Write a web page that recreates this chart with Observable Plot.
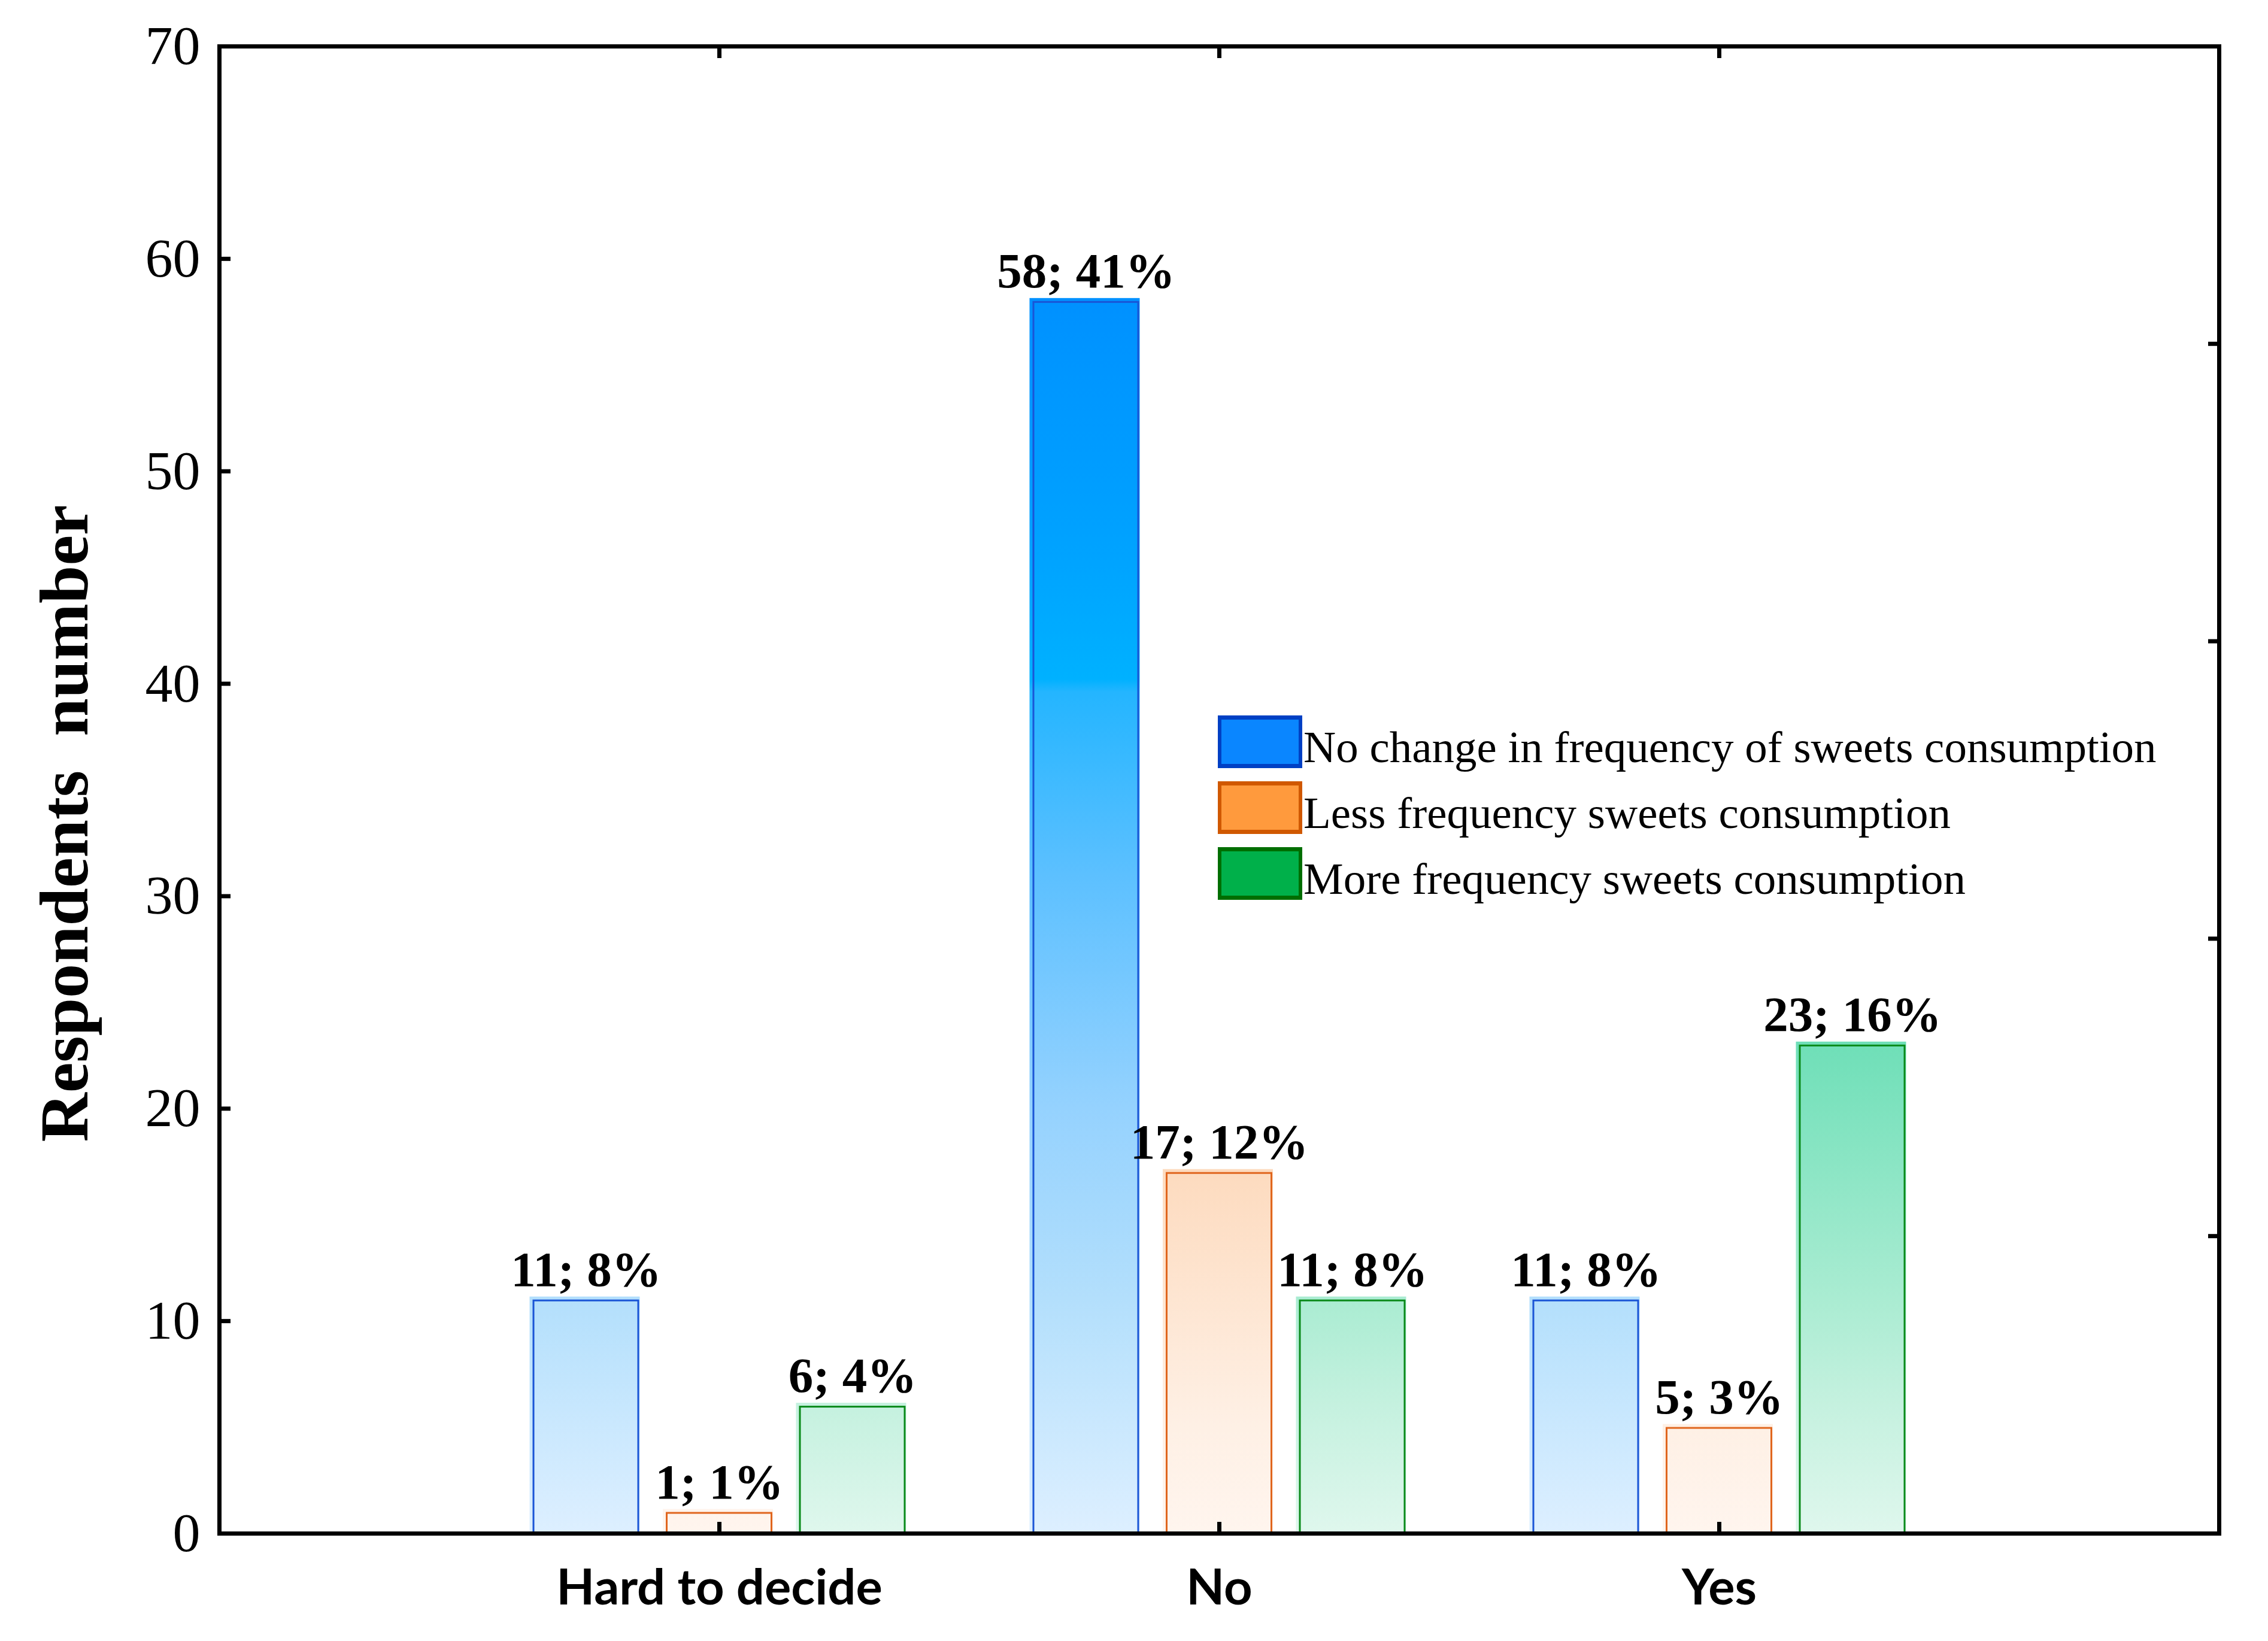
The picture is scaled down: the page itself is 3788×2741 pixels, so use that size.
<!DOCTYPE html>
<html>
<head>
<meta charset="utf-8">
<script src="https://cdn.jsdelivr.net/npm/d3@7"></script>
<script src="https://cdn.jsdelivr.net/npm/@observablehq/plot@0.6"></script>
<style>
  html, body { margin: 0; padding: 0; background: #fff; }
  #wrap { position: relative; width: 3788px; height: 2741px; }
  #legend { position: absolute; left: 2034px; top: 1195px; font-family: "Liberation Serif", "Times New Roman", serif; font-size: 75px; color: #000; }
  .row { position: absolute; left: 0; height: 88px; white-space: nowrap; }
  .sw { position: absolute; left: 0; top: 0; width: 141px; height: 88px; box-sizing: border-box; border: 6px solid; border-top-width: 7px; border-bottom-width: 7px; }
  .lab { position: absolute; left: 143px; top: 10px; line-height: normal; }
</style>
</head>
<body>
<div id="wrap"></div>
<script>
// ---- data ----
const categories = ["Hard to decide", "No", "Yes"];
const series = [
  "No change in frequency of sweets consumption",
  "Less frequency sweets consumption",
  "More frequency sweets consumption"
];
const noChangeCounts = [11, 58, 11];
const lessCounts = [1, 17, 5];
const moreCounts = [6, 11, 23];
const noChangePct = [8, 41, 8];
const lessPct = [1, 12, 3];
const morePct = [4, 8, 16];
const yTicks = [0, 10, 20, 30, 40, 50, 60, 70];
const rightTicks = [14, 28, 42, 56];
const yLabel = "Respondents\u00a0 number";

// ---- styles ----
const counts = [noChangeCounts, lessCounts, moreCounts];
const pcts = [noChangePct, lessPct, morePct];
const strokes = ["#1a55d6", "#e0661e", "#0a8a1a"];
const legendFill = ["#0a86ff", "#ff9a3d", "#00b04a"];
const legendBorder = ["#0040c4", "#d05800", "#006e00"];
const gradStops = [
  [[70, "#0080ff"], [58, "#0091ff"], [46, "#00a3ff"], [40.2, "#00b1ff"], [39.6, "#24b5ff"], [31, "#5cc0ff"], [20, "#95d2fe"], [11, "#b3dffc"], [8, "#bfe4fd"], [0, "#ddefff"]],
  [[70, "#fcb27a"], [17, "#fddbbf"], [5, "#fef0e5"], [0, "#fff5ee"]],
  [[70, "#10c080"], [23, "#6fdfb8"], [11, "#aaecd2"], [6, "#c5f1df"], [0, "#dff7ed"]]
];
const barStep = 222.5; // spacing between grouped bars (px)

const rows = series.map((s, j) => categories.map((c, i) => ({
  category: c, series: s, value: counts[j][i], pct: pcts[j][i]
})));

const serif = "Liberation Serif, Times New Roman, serif";

const marks = [];
rows.forEach((data, j) => {
  const dx = (j - 1) * barStep;
  marks.push(Plot.barY(data, {x: "category", y: "value", dx, fill: `url(#grad${j})`, insetLeft: -5, insetRight: -1, insetTop: -5}));
  marks.push(Plot.barY(data, {x: "category", y: "value", dx, fill: "none", stroke: strokes[j], strokeWidth: 3, insetLeft: 1.5, insetRight: 1.5, insetTop: 1.5}));
  marks.push(Plot.text(data, {x: "category", y: "value", dx, dy: -50, text: d => `${d.value}; ${d.pct}%`, fontSize: 83, fontWeight: "bold", fontFamily: serif, fill: "#000"}));
});

marks.push(
  Plot.axisY({ticks: yTicks, tickSize: 0, tickPadding: 32, fontSize: 92, fontFamily: serif, label: null, tickFormat: d => d}),
  Plot.axisY({ticks: yTicks, tickSize: 19, dx: 19, text: null, strokeWidth: 7, label: null}),
  Plot.axisY({anchor: "right", ticks: rightTicks, tickSize: 19, dx: -19, text: null, strokeWidth: 7, label: null}),
  Plot.axisX({anchor: "bottom", tickSize: 0, tickPadding: 60, fontSize: 83, fontWeight: "bold", fontFamily: "Lato, Carlito, sans-serif", label: null}),
  Plot.axisX({anchor: "bottom", tickSize: 19, dy: -19, text: null, strokeWidth: 7, label: null}),
  Plot.axisX({anchor: "top", tickSize: 19, dy: 19, text: null, strokeWidth: 7, label: null}),
  Plot.frame({stroke: "#000", strokeWidth: 7}),
  Plot.text([yLabel], {text: d => d, frameAnchor: "left", textAnchor: "middle", rotate: -90, dx: -257, dy: 56, fontSize: 114, fontWeight: "bold", fontFamily: serif, fill: "#000"})
);

const chart = Plot.plot({
  width: 3788,
  height: 2741,
  marginLeft: 366,
  marginRight: 82,
  marginTop: 77,
  marginBottom: 180,
  style: {background: "#fff", color: "#000", overflow: "visible"},
  x: {type: "band", domain: categories, paddingInner: 0.78683, paddingOuter: 0.89341, axis: null},
  y: {domain: [0, 70], axis: null},
  marks
});

// gradient definitions tied to the y scale
const y = chart.scale("y");
const svg = d3.select(chart.tagName.toLowerCase() === "svg" ? chart : chart.querySelector("svg"));
const defs = svg.insert("defs", ":first-child");
const yTop = y.apply(70), yBot = y.apply(0);
gradStops.forEach((stops, j) => {
  const g = defs.append("linearGradient").attr("id", `grad${j}`)
    .attr("gradientUnits", "userSpaceOnUse")
    .attr("x1", 0).attr("x2", 0).attr("y1", yTop).attr("y2", yBot);
  stops.forEach(([v, c]) => g.append("stop").attr("offset", (y.apply(v) - yTop) / (yBot - yTop)).attr("stop-color", c));
});

const wrap = document.getElementById("wrap");
wrap.appendChild(chart);

// legend inside the plot area
const legend = document.createElement("div");
legend.id = "legend";
series.forEach((s, j) => {
  const row = document.createElement("div");
  row.className = "row";
  row.style.top = (j * 110) + "px";
  const sw = document.createElement("div");
  sw.className = "sw";
  sw.style.background = legendFill[j];
  sw.style.borderColor = legendBorder[j];
  const lab = document.createElement("span");
  lab.className = "lab";
  lab.textContent = s;
  row.appendChild(sw);
  row.appendChild(lab);
  legend.appendChild(row);
});
wrap.appendChild(legend);
</script>
</body>
</html>
